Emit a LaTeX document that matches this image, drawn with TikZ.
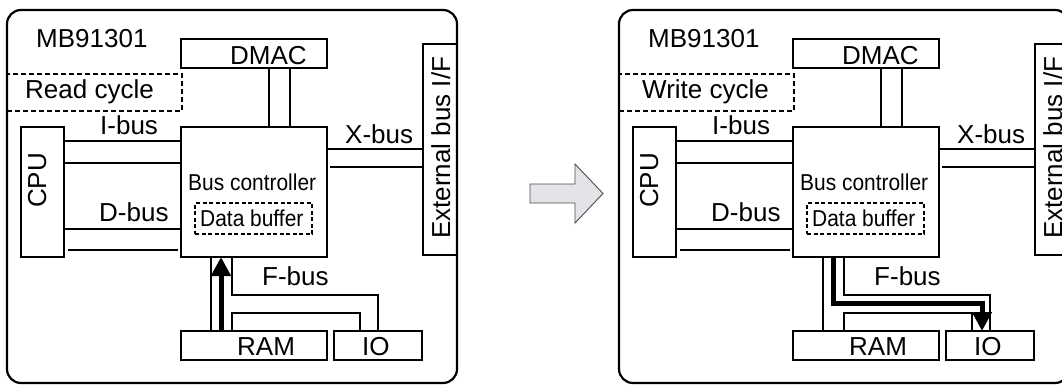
\documentclass[tikz,border=0pt]{standalone}
\usepackage{fontspec}
\setmainfont{Liberation Sans}
\newfontfamily\condfont[FakeStretch=0.91]{Liberation Sans}
\usetikzlibrary{arrows.meta,calc}
\tikzset{
  box/.style={draw, line width=1.1pt, inner sep=0pt, outer sep=0pt, anchor=north west},
  chipbox/.style={box, line width=2.2pt, rounded corners=14pt},
  dbox/.style={box, dash pattern=on 5pt off 3pt},
  txt/.style={anchor=base west, inner sep=0pt, font=\fontsize{26pt}{30pt}\selectfont},
  ctxt/.style={anchor=base west, inner sep=0pt, font=\condfont\fontsize{23pt}{27pt}\selectfont},
  bus/.style={line width=1.1pt},
  hot/.style={line width=5pt, line join=miter, -{Triangle[width=19pt,length=19pt]}},
  blockarrow/.style={draw=black!70, line width=0.9pt, fill=blockgray, line join=miter},
}
\definecolor{blockgray}{HTML}{E3E4E8}
\newcommand\drawpanel[4]{%
\begin{scope}[xshift=#2pt]
  \node[box, minimum width=146pt, minimum height=29pt] (#1-dmac) at (181,39) {};
  \node[dbox, minimum width=175pt, minimum height=37pt] (#1-cyc) at (7,74) {};
  \node[box, minimum width=43pt, minimum height=130pt] (#1-cpu) at (21,127) {};
  \node[box, minimum width=146pt, minimum height=130pt] (#1-bc) at (181,127) {};
  \node[box, dash pattern=on 4pt off 2.5pt, minimum width=117pt, minimum height=31pt] (#1-buf) at (195,203) {};
  \node[box, minimum width=34pt, minimum height=211pt] (#1-ext) at (423,44) {};
  \node[box, minimum width=146pt, minimum height=29pt] (#1-ram) at (181,331) {};
  \node[box, minimum width=88pt, minimum height=29pt] (#1-io) at (334,331) {};
  \node[chipbox, minimum width=450pt, minimum height=373pt] (#1-chip) at (7,10) {};
  % texts
  \node[txt] (#1-name) at (36,48) {MB91301};
  \node[txt] (#1-dmact) at (230,65) {DMAC};
  \node[txt] (#1-cyct) at (#4,99) {#3};
  \node[txt, rotate=90] (#1-cput) at (46,208) {CPU};
  \node[ctxt] (#1-bct) at (188,190) {Bus controller};
  \node[ctxt] (#1-buft) at (200,226) {Data buffer};
  \node[txt, rotate=90] (#1-extt) at (450,239) {External bus I/F};
  \node[txt] (#1-ramt) at (237,355) {RAM};
  \node[txt] (#1-iot) at (362,355) {IO};
  \node[txt] (#1-ibus) at (100,135) {I-bus};
  \node[txt] (#1-xbus) at (345,143) {X-bus};
  \node[txt] (#1-dbus) at (99,221) {D-bus};
  \node[txt] (#1-fbus) at (262,285) {F-bus};
  % coordinates
  \coordinate (#1-d1) at (68,250);
  \coordinate (#1-d2) at (178,250);
  \coordinate (#1-x1) at (330,167);
  \coordinate (#1-f1) at (378,295);
  \coordinate (#1-f2) at (360,313);
  \coordinate (#1-pa) at (221,0);
  \coordinate (#1-pb) at (370,303);
  % buses
  \draw[bus] (#1-cpu.east |- 0,141) -- (#1-bc.west |- 0,141);
  \draw[bus] (#1-cpu.east |- 0,163) -- (#1-bc.west |- 0,163);
  \draw[bus] (#1-cpu.east |- 0,229) -- (#1-bc.west |- 0,229);
  \draw[bus] (#1-d1) -- (#1-d2);
  \draw[bus] (#1-dmac.south -| 269,0) -- (#1-bc.north -| 269,0);
  \draw[bus] (#1-dmac.south -| 290,0) -- (#1-bc.north -| 290,0);
  \draw[bus] (#1-bc.east |- 0,149) -- (#1-ext.west |- 0,149);
  \draw[bus] (#1-x1) -- (#1-ext.west |- #1-x1);
  \draw[bus] (#1-bc.south -| 211,0) -- (#1-ram.north -| 211,0);
  \draw[bus] (#1-bc.south -| 232,0) |- (#1-f1) -- (#1-io.north -| #1-f1);
  \draw[bus] (#1-ram.north -| 232,0) |- (#1-f2) -- (#1-io.north -| #1-f2);
\end{scope}}
\begin{document}
\begin{tikzpicture}[x=1pt,y=-1pt]
\useasboundingbox (0,0) rectangle (1062,385);
\clip (0,0) rectangle (1062,385);
\drawpanel{L}{0}{Read cycle}{25}
\drawpanel{R}{612}{Write cycle}{30}
\draw[hot] (L-ram.north -| L-pa) -- (L-bc.south -| L-pa);
\draw[hot] (R-bc.south -| R-pa) |- (R-pb) -- (R-io.north -| R-pb);
\draw[blockarrow] (530,184) -- (575,184) -- (575,164) -- (603,193.5) -- (575,223) -- (575,203) -- (530,203) -- cycle;
\end{tikzpicture}
\end{document}
